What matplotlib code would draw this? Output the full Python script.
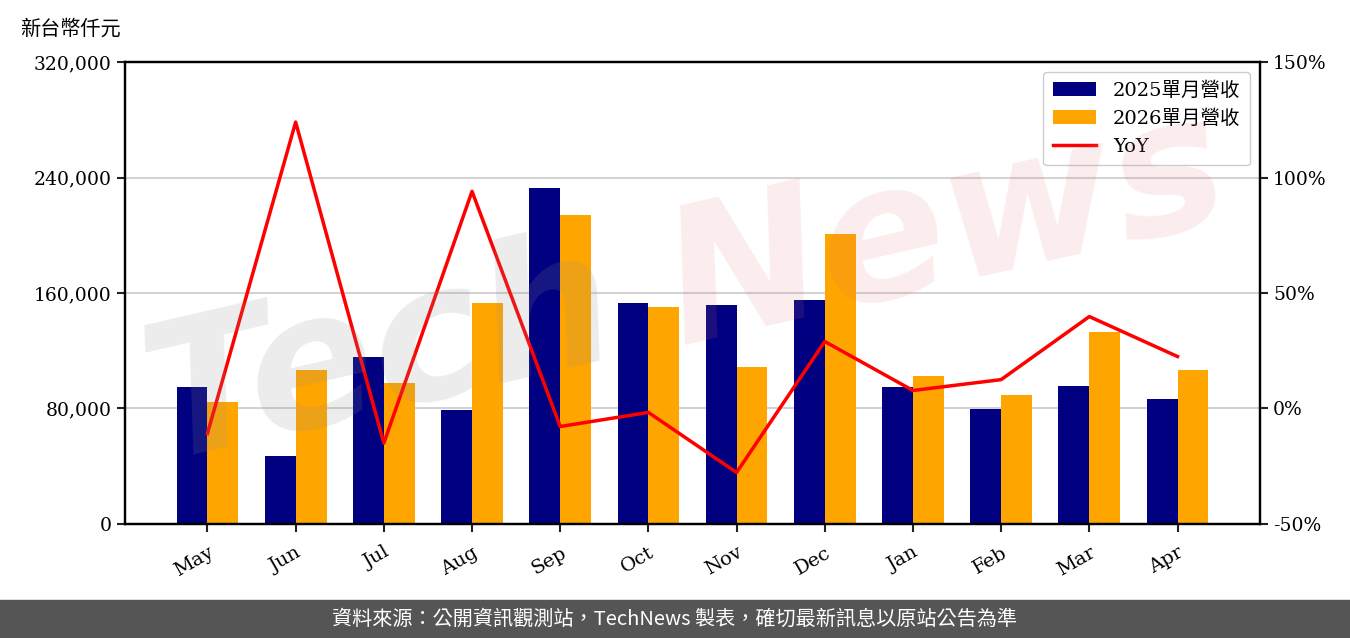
import matplotlib
matplotlib.use("Agg")
import matplotlib.pyplot as plt
import numpy as np
from matplotlib.ticker import FuncFormatter, MultipleLocator

# values (新台幣仟元, YoY in %)
MONTHS = ["May", "Jun", "Jul", "Aug", "Sep", "Oct", "Nov", "Dec", "Jan", "Feb", "Mar", "Apr"]
REV_2025 = [94900, 47100, 115700, 79000, 232700, 153100, 151700, 155100, 94900, 79600, 95600, 86600]
REV_2026 = [84500, 106700, 97700, 153100, 214000, 150300, 108700, 200900, 102500, 89300, 133000, 106700]
YOY = [-10.8, 124.0, -15.0, 94.0, -7.8, -1.7, -27.7, 29.0, 7.8, 12.5, 39.8, 22.5]

SERIF = ["DejaVu Serif", "Noto Sans CJK TC"]
plt.rcParams["font.family"] = SERIF

fig = plt.figure(figsize=(13.5, 6.38), dpi=100)
ax = fig.add_axes([0.0926, 0.1787, 0.8407, 0.7241])
ax2 = ax.twinx()

x = np.arange(len(MONTHS))
w = 0.35
b1 = ax.bar(x - w / 2, REV_2025, w, color="#000080", label="2025單月營收", zorder=2)
b2 = ax.bar(x + w / 2, REV_2026, w, color="#FFA500", label="2026單月營收", zorder=2)
ln, = ax2.plot(x, YOY, color="red", lw=2.5, label="YoY", zorder=3)

ax.set_ylim(0, 320000)
ax.yaxis.set_major_locator(MultipleLocator(80000))
ax.yaxis.set_major_formatter(FuncFormatter(lambda v, p: f"{int(v):,}"))
ax.grid(axis="y", color="#d3d3d3", lw=1.5, zorder=0)
ax.set_axisbelow(True)
ax.set_xticks(x)
ax.set_xticklabels(MONTHS, rotation=30, ha="right", rotation_mode="anchor")

ax2.set_ylim(-50, 150)
ax2.yaxis.set_major_locator(MultipleLocator(50))
ax2.yaxis.set_major_formatter(FuncFormatter(lambda v, p: f"{int(v)}%"))

for a in (ax, ax2):
    for s in a.spines.values():
        s.set_linewidth(1.6)
    a.tick_params(labelsize=13.5, length=6, width=1.5, colors="#222222", labelcolor="black")
ax.tick_params(axis="x", labelsize=14, pad=8)

leg = ax.legend(handles=[b1, b2, ln], loc="upper right", fontsize=14,
                fancybox=True, framealpha=1, edgecolor="#cccccc", handlelength=2.2,
                handletextpad=0.9, borderpad=0.5)
leg.set_zorder(10)

fig.text(0.015, 0.955, "新台幣仟元", fontsize=14.5, ha="left", va="center")

# watermark
fig.text(0.095, 0.22, "Tech", fontsize=135, fontstyle="italic", fontweight="bold",
         family=["DejaVu Sans"], color="#909090", alpha=0.17, rotation=13,
         ha="left", va="bottom", zorder=5)
fig.text(0.48, 0.40, "News", fontsize=135, fontstyle="italic", fontweight="bold",
         family=["DejaVu Sans"], color="#e07070", alpha=0.13, rotation=13,
         ha="left", va="bottom", zorder=5)

# footer
fig.patches.append(plt.Rectangle((0, 0), 1, 38 / 638, transform=fig.transFigure,
                                 color="#555555", zorder=0))
fig.text(0.5, 19 / 638, "資料來源：公開資訊觀測站，TechNews 製表，確切最新訊息以原站公告為準",
         fontsize=14.5, color="white", ha="center", va="center",
         family=["Noto Sans CJK TC", "DejaVu Sans"])

fig.savefig("out.png", dpi=100)
